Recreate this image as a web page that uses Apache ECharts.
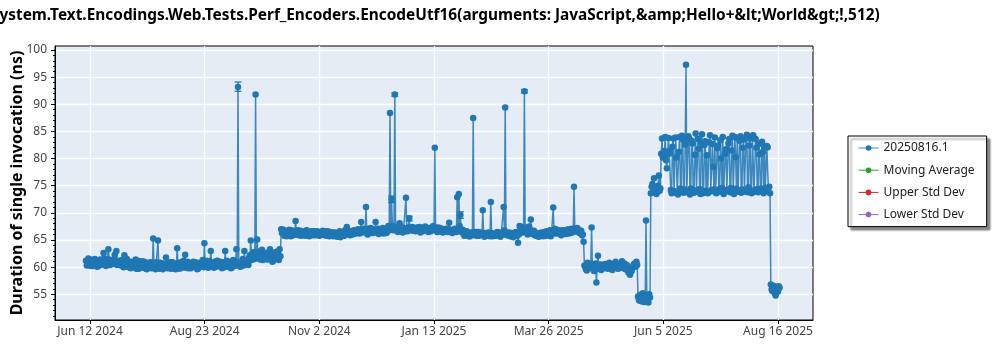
<!DOCTYPE html>
<html>
<head>
<meta charset="utf-8">
<script src="https://cdn.jsdelivr.net/npm/echarts@6/dist/echarts.min.js"></script>
<style>
  html, body { margin: 0; padding: 0; background: #fff; }
  #chart { width: 1000px; height: 350px; }
</style>
</head>
<body>
<div id="chart"></div>
<script>
const titleText = 'System.Text.Encodings.Web.Tests.Perf_Encoders.EncodeUtf16(arguments: JavaScript,&amp;Hello+&lt;World&gt;!,512)';
const yAxisTitle = 'Duration of single invocation (ns)';
const seriesNames = ['20250816.1', 'Moving Average', 'Upper Std Dev', 'Lower Std Dev'];
const seriesColors = ['#1f77b4', '#2ca02c', '#d62728', '#9467bd'];

// x axis: tick instants (UTC) and their labels, plus the visible range
const xTickTimes = ['2024-06-12T12:00', '2024-08-23T04:00', '2024-11-02T20:00', '2025-01-13T12:00',
                    '2025-03-26T04:00', '2025-06-05T20:00', '2025-08-16T12:00'];
const xTickLabels = ['Jun 12 2024', 'Aug 23 2024', 'Nov 2 2024', 'Jan 13 2025',
                     'Mar 26 2025', 'Jun 5 2025', 'Aug 16 2025'];
const xRange = ['2024-05-21T15:20', '2025-09-07T08:40'];

// y axis ticks (ns)
const yTicks = [55, 60, 65, 70, 75, 80, 85, 90, 95, 100];
const yMinorTicks = [51, 52, 53, 54, 56, 57, 58, 59, 61, 62, 63, 64, 66, 67, 68, 69, 71, 72, 73, 74,
                     76, 77, 78, 79, 81, 82, 83, 84, 86, 87, 88, 89, 91, 92, 93, 94, 96, 97, 98, 99];
const yRange = [50.27, 100.74];

// Morning runs (ns), one entry per day of the month, null = no run
const jun2024 = [null, null, null, null, null, null, null, null, null,
  61.2, 60.4, 61.5, 60.2, 61.0, 60.6, 61.3, 60.1, 60.9, 61.4, 60.5, 62.6, 60.8, 61.1, 63.3, 60.4,
  61.0, 60.7, 62.3, 63.0, 60.6];
const jul2024 = [61.0, 60.3, 60.8, 62.2, 60.1, 61.2, 60.5, 59.8, 60.9, 60.2, 61.4, 60.0, 59.7, 60.6,
  61.1, 59.9, 60.4, 59.6, 60.8, 60.1, 59.8, 65.3, 60.5, 60.9, 64.9, 59.7, 60.2, 59.6, 60.7, 61.8, 59.8];
const aug2024 = [60.2, 59.7, 60.9, 60.3, 59.6, 63.5, 60.8, 60.1, 59.9, 61.2, 62.3, 60.4, 59.8, 60.6,
  60.0, 61.0, 60.5, 60.3, 59.7, 60.8, 60.2, 61.3, 64.4, 60.5, 60.0, 61.1, 63.0, 60.4, 59.9, 60.7, 61.2];
const sep2024 = [60.3, 61.0, 59.8, 60.6, 63.0, 61.2, 60.1, 60.7, 59.9, 61.3, 60.4, 63.3, 93.2, 60.8,
  60.2, 61.5, 63.0, 60.6, 61.0, 61.8, 64.9, 61.6, 62.8, 91.8, 65.1, 62.1, 61.4, 63.2, 62.5, 61.8];
const oct2024 = [62.0, 61.5, 63.3, 62.3, 61.2, 62.7, 61.9, 62.4, 63.3, 67.0, 66.2, 65.8, 66.6, 66.0,
  66.9, 65.7, 66.4, 66.1, 68.5, 66.3, 65.9, 66.7, 66.0, 66.5, 65.8, 66.8, 66.2, 66.0, 66.6, 65.9, 66.4];
const nov2024 = [66.1, 66.5, 65.8, 66.3, 66.7, 65.9, 66.2, 66.6, 65.7, 66.0, 66.4, 65.8, 66.3, 65.6,
  66.1, 65.5, 66.0, 66.4, 66.8, 67.4, 66.2, 65.9, 66.5, 66.1, 66.7, 66.3, 67.0, 66.2, 68.3, 66.6];
const dec2024 = [66.4, 71.1, 66.0, 66.7, 67.2, 66.3, 66.8, 68.3, 66.5, 66.1, 67.0, 66.6, 66.2, 66.9,
  66.4, 67.6, 88.4, 72.5, 66.8, 91.8, 67.3, 66.5, 68.1, 66.9, 66.4, 67.2, 72.8, 66.6, 69.0, 66.9, 67.4];
const jan2025 = [67.0, 66.6, 67.3, 66.8, 66.4, 67.1, 66.7, 67.5, 66.9, 66.5, 67.2, 66.8, 67.6, 82.0,
  66.9, 67.3, 66.6, 67.0, 66.4, 66.8, 67.1, 66.5, 68.2, 66.9, 66.3, 66.7, 67.0, 72.9, 73.5, 69.6, 66.4];
const feb2025 = [66.2, 65.9, 66.6, 66.0, 65.7, 66.4, 87.5, 66.1, 65.8, 66.5, 66.0, 66.3, 70.5, 65.6,
  66.2, 65.9, 66.1, 72.0, 65.7, 66.1, 65.8, 66.5, 66.0, 65.6, 66.3, 71.1, 89.4, 65.9];
const mar2025 = [66.0, 65.7, 66.3, 65.5, 65.9, 66.2, 64.5, 67.6, 66.8, 66.4, 92.4, 67.2, 66.0, 67.5,
  68.8, 66.3, 66.7, 65.8, 66.1, 65.6, 66.0, 66.4, 65.7, 66.2, 66.6, 65.9, 66.8, 66.3, 71.0, 67.1, 66.5];
const apr2025 = [66.2, 66.7, 65.9, 66.4, 66.8, 66.1, 66.5, 67.0, 66.3, 66.9, 74.8, 66.6, 67.2, 66.8,
  66.4, 65.9, 64.7, 60.1, 59.4, 60.5, 59.8, 67.3, 60.2, 59.6, 57.2, 62.1, 60.0, 59.5, 60.4, 59.9];
const may2025 = [60.3, 59.7, 60.8, 60.1, 59.5, 60.6, 61.0, 60.2, 59.8, 60.5, 61.1, 60.0, 59.6, 60.4,
  59.0, 58.6, 59.3, 60.2, 60.7, 61.0, 54.6, 53.8, 54.3, 55.2, 53.6, 68.6, 54.1, 55.0, 73.6, 75.3, 76.4];
const jun2025 = [74.2, 73.8, 76.9, 74.5, 83.7, 80.5, 84.0, 78.2, 83.8, 81.0, 73.6, 83.7, 74.0, 80.2,
  73.4, 84.0, 73.9, 83.5, 74.3, 97.3, 73.8, 83.6, 74.5, 82.8, 73.7, 84.6, 74.1, 81.8, 73.5, 84.5];
const jul2025 = [74.0, 83.2, 80.6, 73.7, 84.3, 74.2, 78.5, 83.9, 73.6, 82.4, 74.4, 80.0, 84.0, 73.8,
  81.7, 74.1, 83.6, 74.6, 84.2, 73.5, 80.3, 83.8, 74.0, 84.1, 74.3, 83.5, 73.9, 84.4, 74.7, 83.7, 73.6];
const aug2025 = [84.3, 74.2, 82.0, 73.8, 80.8, 74.5, 81.2, 82.1, 74.6, 82.1, 74.8, 56.8, 55.6, 56.3,
  54.8, 56.0, 56.5];

// Afternoon runs (ns), same layout
const jun2024pm = [null, null, null, null, null, null, null, null, null,
  60.3, 61.6, 60.5, 61.1, 60.2, 61.5, 60.4, 61.0, 60.3, 61.2, 60.7, 61.6, 60.2, 60.9, 61.4, 60.5,
  61.3, 60.6, 61.1, 60.4, 61.2];
const jul2024pm = [60.4, 61.3, 60.0, 60.7, 61.5, 60.3, 59.9, 61.0, 60.2, 60.8, 59.7, 61.2, 60.5, 59.9,
  60.3, 61.0, 59.7, 60.6, 60.0, 60.9, 60.4, 60.1, 59.6, 60.7, 60.2, 60.8, 59.9, 60.5, 60.1, 60.4, 60.9];
const aug2024pm = [60.6, 60.9, 59.8, 60.7, 60.5, 60.0, 59.7, 60.9, 60.6, 60.1, 59.9, 61.0, 60.4, 59.8,
  60.7, 60.2, 60.9, 59.6, 60.5, 60.1, 60.7, 60.0, 60.6, 61.2, 59.9, 60.4, 60.8, 60.2, 61.0, 60.1, 60.5];
const sep2024pm = [60.8, 60.2, 60.9, 60.0, 60.5, 60.6, 60.9, 59.8, 60.6, 60.2, 61.0, 60.3, 60.5, 60.1,
  60.9, 60.3, 60.6, 61.1, 60.4, 62.2, 61.3, 62.6, 61.5, 62.3, 61.7, 62.9, 61.9, 61.3, 62.0, 62.6];
const oct2024pm = [61.4, 62.8, 61.7, 61.0, 62.5, 61.6, 62.9, 61.3, 62.0, 66.3, 66.9, 66.1, 65.7, 66.5,
  66.2, 66.8, 65.9, 66.6, 66.0, 66.8, 66.4, 65.8, 66.5, 66.1, 66.7, 66.0, 65.7, 66.5, 66.1, 66.6, 65.9];
const nov2024pm = [66.6, 65.9, 66.4, 66.0, 66.2, 66.6, 65.8, 66.1, 66.5, 66.3, 65.7, 66.4, 65.9, 66.2,
  66.6, 66.1, 66.5, 65.8, 66.2, 66.5, 66.7, 66.4, 66.0, 66.8, 66.2, 66.7, 66.4, 66.9, 66.5, 67.1];
const dec2024pm = [66.9, 66.5, 67.1, 66.3, 66.6, 67.0, 66.4, 66.7, 67.1, 66.6, 66.4, 67.2, 66.7, 66.3,
  67.0, 66.8, 67.2, 67.6, 67.4, 67.0, 66.6, 67.1, 66.8, 67.3, 66.9, 66.6, 67.0, 67.3, 66.8, 67.2, 66.7];
const jan2025pm = [66.7, 67.2, 66.9, 67.4, 67.0, 66.6, 67.3, 66.9, 67.2, 66.8, 66.6, 67.3, 66.9, 67.1,
  66.5, 66.8, 67.2, 66.7, 67.0, 66.9, 66.6, 67.0, 66.7, 66.4, 66.8, 67.1, 66.5, 66.9, 67.6, 66.8, 66.9];
const feb2025pm = [65.8, 66.4, 66.1, 65.7, 66.3, 65.9, 66.0, 66.5, 66.2, 65.8, 66.4, 66.0, 66.2, 66.3,
  65.8, 66.4, 65.7, 66.3, 66.0, 65.8, 66.2, 65.9, 66.4, 66.1, 66.0, 66.8, 66.1, 66.3];
const mar2025pm = [66.4, 66.1, 65.8, 66.2, 66.5, 65.8, 66.0, 67.2, 67.4, 66.8, 67.0, 66.5, 67.4, 66.9,
  66.2, 66.0, 66.4, 66.2, 65.7, 66.3, 65.9, 66.1, 66.5, 65.8, 66.3, 66.2, 65.7, 66.6, 66.8, 66.2, 66.9];
const apr2025pm = [66.7, 66.3, 66.8, 66.1, 66.4, 66.9, 66.2, 66.6, 67.1, 66.5, 67.0, 66.9, 66.5, 66.3,
  66.7, 66.0, 60.3, 59.6, 60.8, 59.9, 60.6, 60.0, 59.3, 60.7, 60.3, 59.7, 60.5, 60.2, 59.8, 60.6];
const may2025pm = [59.9, 60.5, 60.2, 59.6, 60.4, 60.0, 60.4, 59.7, 60.6, 59.9, 60.3, 60.7, 60.1, 59.8,
  59.4, 59.1, 59.9, 60.6, 60.1, 60.4, 54.0, 54.9, 53.7, 54.5, 54.2, 54.8, 53.5, 54.4, 74.8, 74.0, 73.7];
const jun2025pm = [73.5, 75.0, 74.1, 80.9, 80.2, 81.4, 79.7, 80.8, 81.3, 74.2, 82.2, 73.8, 83.9, 73.6,
  81.2, 74.5, 84.2, 73.7, 82.6, 74.0, 84.1, 73.4, 83.3, 74.2, 80.7, 73.9, 83.6, 74.4, 82.9, 73.6];
const jul2025pm = [82.5, 74.1, 73.6, 83.0, 74.0, 82.7, 74.3, 73.7, 81.9, 73.9, 83.4, 74.6, 73.5, 80.9,
  74.2, 82.8, 73.8, 81.5, 73.6, 84.0, 74.5, 73.9, 83.3, 73.7, 82.0, 74.1, 83.9, 73.8, 82.4, 74.0, 84.2];
const aug2025pm = [73.9, 83.6, 74.4, 82.7, 74.0, 83.1, 73.6, 74.3, 82.3, 74.0, 73.6, 55.9, 56.6, 55.2,
  56.4, 55.5, 56.2];

// Spread of the runs where it is wide enough to show: [day, low, high]
const errorBars = [
  ['2024-09-13', 92.4, 94.1],
  ['2024-12-18', 71.9, 73.1],
  ['2024-12-20', 91.5, 92.1],
  ['2024-12-29', 68.5, 69.4],
  ['2025-01-30', 69.0, 70.2],
  ['2025-03-11', 92.1, 92.7]
];

const months = [
  [2024, 6, jun2024, jun2024pm], [2024, 7, jul2024, jul2024pm], [2024, 8, aug2024, aug2024pm],
  [2024, 9, sep2024, sep2024pm], [2024, 10, oct2024, oct2024pm], [2024, 11, nov2024, nov2024pm],
  [2024, 12, dec2024, dec2024pm], [2025, 1, jan2025, jan2025pm], [2025, 2, feb2025, feb2025pm],
  [2025, 3, mar2025, mar2025pm], [2025, 4, apr2025, apr2025pm], [2025, 5, may2025, may2025pm],
  [2025, 6, jun2025, jun2025pm], [2025, 7, jul2025, jul2025pm], [2025, 8, aug2025, aug2025pm]
];

const utc = s => Date.parse(s.length === 10 ? s + 'T00:00Z' : s + 'Z');

// runs in time order: morning run at 00:00 UTC, afternoon run at 12:00 UTC
const points = [];
months.forEach(([y, m, am, pm]) => {
  am.forEach((v, i) => {
    if (v !== null) points.push([Date.UTC(y, m - 1, i + 1, 0), v]);
    if (pm[i] !== null && pm[i] !== undefined) points.push([Date.UTC(y, m - 1, i + 1, 12), pm[i]]);
  });
});
const barData = errorBars.map(([d, lo, hi]) => [utc(d), lo, hi]);
const tickTimes = xTickTimes.map(utc);

const FONT = 'Noto Sans';
const chart = echarts.init(document.getElementById('chart'), null, { renderer: 'canvas' });

chart.setOption({
  animation: false,
  backgroundColor: '#ffffff',
  title: {
    text: titleText,
    left: -9,
    top: 8,
    padding: 0,
    textStyle: { fontFamily: FONT, fontSize: 15.4, fontWeight: 'bold', color: '#000' }
  },
  grid: {
    left: 55, right: 187, top: 46, bottom: 30,
    containLabel: false,
    outerBoundsMode: 'none',
    show: true, backgroundColor: '#e5ecf6', borderColor: '#000', borderWidth: 1
  },
  legend: {
    orient: 'vertical',
    left: 848, top: 136,
    data: seriesNames,
    selectedMode: false,
    itemWidth: 20, itemHeight: 7, itemGap: 10.2,
    padding: [6, 12, 6, 10],
    backgroundColor: '#fff',
    borderColor: '#000', borderWidth: 1,
    shadowColor: 'rgba(0,0,0,0.45)', shadowBlur: 2, shadowOffsetX: 3, shadowOffsetY: 3,
    lineStyle: { width: 1 },
    textStyle: { fontFamily: FONT, fontSize: 12, color: '#222' }
  },
  xAxis: {
    type: 'value',
    min: utc(xRange[0]), max: utc(xRange[1]),
    axisLine: { show: true, lineStyle: { color: '#000', width: 1 } },
    axisTick: { show: true, length: 4, customValues: tickTimes, lineStyle: { color: '#000' } },
    axisLabel: {
      customValues: tickTimes,
      margin: 6,
      fontFamily: FONT, fontSize: 12, color: '#444',
      formatter: v => {
        const i = tickTimes.indexOf(v);
        return i >= 0 ? xTickLabels[i] : '';
      }
    },
    splitLine: { show: true, lineStyle: { color: '#fff', width: 1.3 } }
  },
  yAxis: [{
    type: 'value',
    min: yRange[0], max: yRange[1],
    name: yAxisTitle,
    nameLocation: 'middle',
    nameGap: 30,
    nameMoveOverlap: false,
    nameTextStyle: { fontFamily: FONT, fontSize: 16, fontWeight: 'bold', color: '#000' },
    axisLine: { show: true, lineStyle: { color: '#000', width: 1 } },
    axisTick: { show: true, length: 4, customValues: yTicks, lineStyle: { color: '#000' } },
    axisLabel: { customValues: yTicks, margin: 8, fontFamily: FONT, fontSize: 12, color: '#444' },
    splitLine: { show: true, lineStyle: { color: '#fff', width: 1.3 } }
  }, {
    type: 'value',
    position: 'left',
    min: yRange[0], max: yRange[1],
    axisLine: { show: false },
    axisTick: { show: true, length: 2, customValues: yMinorTicks, lineStyle: { color: '#000' } },
    axisLabel: { show: false },
    splitLine: { show: false }
  }],
  series: [
    {
      name: seriesNames[0],
      type: 'line',
      data: points,
      color: seriesColors[0],
      symbol: 'circle',
      symbolSize: 6.5,
      showAllSymbol: true,
      lineStyle: { width: 1.5, opacity: 0.85 },
      itemStyle: { color: seriesColors[0] },
      z: 3
    },
    {
      type: 'custom',
      data: barData,
      encode: { x: 0, y: [1, 2] },
      z: 4,
      renderItem: (params, api) => {
        const t = api.value(0);
        const a = api.coord([t, api.value(1)]);
        const b = api.coord([t, api.value(2)]);
        const w = 3.5;
        const style = { stroke: seriesColors[0], lineWidth: 1.2 };
        return {
          type: 'group',
          children: [
            { type: 'line', shape: { x1: a[0], y1: a[1], x2: b[0], y2: b[1] }, style },
            { type: 'line', shape: { x1: a[0] - w, y1: a[1], x2: a[0] + w, y2: a[1] }, style },
            { type: 'line', shape: { x1: b[0] - w, y1: b[1], x2: b[0] + w, y2: b[1] }, style }
          ]
        };
      }
    },
    { name: seriesNames[1], type: 'line', data: [], symbol: 'circle', color: seriesColors[1], itemStyle: { color: seriesColors[1] } },
    { name: seriesNames[2], type: 'line', data: [], symbol: 'circle', color: seriesColors[2], itemStyle: { color: seriesColors[2] } },
    { name: seriesNames[3], type: 'line', data: [], symbol: 'circle', color: seriesColors[3], itemStyle: { color: seriesColors[3] } }
  ]
});
</script>
</body>
</html>
